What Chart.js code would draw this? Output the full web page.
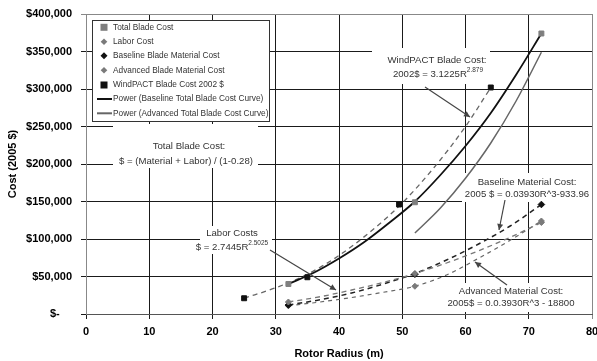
<!DOCTYPE html>
<html>
<head>
<meta charset="utf-8">
<script src="https://cdn.jsdelivr.net/npm/chart.js@4"></script>
<style>
html,body{margin:0;padding:0;background:#fff;}
#wrap{width:597px;height:361px;}
</style>
</head>
<body>
<div id="wrap"><canvas id="c" width="597" height="361"></canvas></div>
<script>
// ---- data ----
const radiusMain = [32, 52, 72];
const totalBladeCost = [40000, 149000, 374000];
const laborCost = [16000, 54000, 122000];
const baselineMaterial = [12000, 53000, 146000];
const advancedMaterial = [11000, 37000, 124000];

const windpactR = [25, 35, 49.5, 64];
const windpactCost = [21000, 49000, 146000, 302000];

// trend curves
const windpactTrendR = [25, 30, 35, 40, 45, 50, 55, 60, 64];
const windpactTrend = [21000, 35000, 53000, 78000, 110000, 148000, 195000, 250000, 302000];

const baselineTotalR = [32, 36, 40, 44, 48, 52, 56, 60, 64, 68, 72];
const baselineTotal = [40000, 55000, 74000, 96000, 122000, 150000, 185000, 224000, 268000, 319000, 374000];

const advancedTotalR = [52, 56, 60, 64, 68, 72];
const advancedTotal = [108000, 141000, 181000, 228000, 284000, 349000];

const trendR = [32, 37, 42, 47, 52, 57, 62, 67, 72];
const laborTrend = [16000, 23000, 32000, 42000, 54000, 68000, 84000, 102000, 122000];
const baselineTrend = [12000, 19000, 28000, 40000, 54000, 72000, 93000, 117000, 146000];
const advancedTrend = [11000, 16000, 22000, 29000, 37000, 52000, 74000, 98000, 124000];

const xTicks = [0, 10, 20, 30, 40, 50, 60, 70, 80];
const yTicks = [0, 50000, 100000, 150000, 200000, 250000, 300000, 350000, 400000];

const legendLabels = [
  'Total Blade Cost',
  'Labor Cost',
  'Baseline Blade Material Cost',
  'Advanced Blade Material Cost',
  'WindPACT Blade Cost 2002 $',
  'Power (Baseline Total Blade Cost Curve)',
  'Power (Advanced Total Blade Cost Curve)'
];

function pts(xs, ys){ return xs.map((x,i)=>({x:x, y:ys[i]})); }

const FONT = '"Liberation Sans", Arial, sans-serif';

// annotation plugin
function drawArrow(ctx, x1, y1, x2, y2){
  ctx.save();
  ctx.strokeStyle = '#444'; ctx.fillStyle = '#444'; ctx.lineWidth = 1.2;
  ctx.beginPath(); ctx.moveTo(x1, y1); ctx.lineTo(x2, y2); ctx.stroke();
  const a = Math.atan2(y2 - y1, x2 - x1), L = 6, W = 3;
  ctx.beginPath();
  ctx.moveTo(x2, y2);
  ctx.lineTo(x2 - L*Math.cos(a) + W*Math.sin(a), y2 - L*Math.sin(a) - W*Math.cos(a));
  ctx.lineTo(x2 - L*Math.cos(a) - W*Math.sin(a), y2 - L*Math.sin(a) + W*Math.cos(a));
  ctx.closePath(); ctx.fill();
  ctx.restore();
}
function textSup(ctx, base, sup, cx, y){
  ctx.save();
  ctx.font = '9.6px ' + FONT;
  const wb = ctx.measureText(base).width;
  ctx.font = '6.5px ' + FONT;
  const ws = ctx.measureText(sup).width;
  const x0 = cx - (wb + ws)/2;
  ctx.textAlign = 'left'; ctx.textBaseline = 'middle'; ctx.fillStyle = '#333';
  ctx.font = '9.6px ' + FONT; ctx.fillText(base, x0, y);
  ctx.font = '6.5px ' + FONT; ctx.fillText(sup, x0 + wb, y - 4);
  ctx.restore();
}
function textC(ctx, s, cx, y){
  ctx.save();
  ctx.font = '9.6px ' + FONT; ctx.textAlign = 'center'; ctx.textBaseline = 'middle'; ctx.fillStyle = '#333';
  ctx.fillText(s, cx, y);
  ctx.restore();
}

const annotPlugin = {
  id: 'annot',
  beforeDatasetsDraw(chart){
    const ctx = chart.ctx;
    ctx.save();
    ctx.fillStyle = '#fff';
    ctx.fillRect(372, 48, 118, 36);
    ctx.fillRect(113, 124, 145, 44);
    ctx.fillRect(200, 226, 72, 28);
    ctx.fillRect(462, 173, 130, 29);
    ctx.fillRect(440, 283, 148, 29);
    ctx.restore();
    textC(ctx, 'WindPACT Blade Cost:', 437, 60);
    textSup(ctx, '2002$ = 3.1225R', '2.879', 438, 74);
    textC(ctx, 'Total Blade Cost:', 189, 146);
    textC(ctx, '$ = (Material + Labor) / (1-0.28)', 186, 161);
    textC(ctx, 'Labor Costs', 232, 233);
    textSup(ctx, '$ = 2.7445R', '2.5025', 232, 247);
    textC(ctx, 'Baseline Material Cost:', 527, 182);
    textC(ctx, '2005 $ = 0.03930R^3-933.96', 527, 194);
    textC(ctx, 'Advanced Material Cost:', 511, 291);
    textC(ctx, '2005$ = 0.0.3930R^3 - 18800', 511, 303);
  },
  afterDatasetsDraw(chart){
    const ctx = chart.ctx;
    drawArrow(ctx, 425, 87, 470, 117);
    drawArrow(ctx, 270, 250, 336, 290);
    drawArrow(ctx, 505, 200, 499, 230);
    drawArrow(ctx, 507, 285, 475, 262);
  },
  afterDraw(chart){
    const ctx = chart.ctx;
    ctx.save();
    ctx.fillStyle = '#fff';
    ctx.fillRect(92.5, 20.5, 177, 101);
    ctx.strokeStyle = '#333'; ctx.lineWidth = 1;
    ctx.strokeRect(92.5, 20.5, 177, 101);
    const rows = [27.3, 41.7, 55.7, 70.3, 85, 99, 113.3];
    ctx.font = '8.3px ' + FONT; ctx.textBaseline = 'middle'; ctx.textAlign = 'left'; ctx.fillStyle = '#333';
    legendLabels.forEach((s, i) => { ctx.fillStyle = '#333'; ctx.fillText(s, 113, rows[i]); });
    const mx = 104;
    ctx.fillStyle = '#7f7f7f'; ctx.fillRect(mx - 3.5, rows[0] - 3.5, 7, 7);
    function diamond(y, r, col){ ctx.fillStyle = col; ctx.beginPath(); ctx.moveTo(mx, y - r); ctx.lineTo(mx + r, y); ctx.lineTo(mx, y + r); ctx.lineTo(mx - r, y); ctx.closePath(); ctx.fill(); }
    diamond(rows[1], 3.3, '#7a7a7a');
    diamond(rows[2], 3.5, '#111');
    diamond(rows[3], 3.3, '#7a7a7a');
    ctx.fillStyle = '#111'; ctx.fillRect(mx - 3.5, rows[4] - 3.5, 7, 7);
    ctx.lineWidth = 2; ctx.strokeStyle = '#111';
    ctx.beginPath(); ctx.moveTo(97, rows[5]); ctx.lineTo(112, rows[5]); ctx.stroke();
    ctx.strokeStyle = '#666';
    ctx.beginPath(); ctx.moveTo(97, rows[6]); ctx.lineTo(112, rows[6]); ctx.stroke();
    ctx.restore();
  }
};

const dash = [5, 4];
new Chart(document.getElementById('c'), {
  type: 'scatter',
  data: {
    datasets: [
      { label: legendLabels[0], data: pts(radiusMain, totalBladeCost), pointStyle: 'rect', pointRadius: 3.5, backgroundColor: '#7f7f7f', borderColor: '#7f7f7f', showLine: false },
      { label: legendLabels[1], data: pts(radiusMain, laborCost), pointStyle: 'rectRot', pointRadius: 3, backgroundColor: '#7a7a7a', borderColor: '#7a7a7a', showLine: false },
      { label: legendLabels[2], data: pts(radiusMain, baselineMaterial), pointStyle: 'rectRot', pointRadius: 3.3, backgroundColor: '#111', borderColor: '#111', showLine: false },
      { label: legendLabels[3], data: pts(radiusMain, advancedMaterial), pointStyle: 'rectRot', pointRadius: 3, backgroundColor: '#7a7a7a', borderColor: '#7a7a7a', showLine: false },
      { label: legendLabels[4], data: pts(windpactR, windpactCost), pointStyle: 'rect', pointRadius: 3.5, backgroundColor: '#111', borderColor: '#111', showLine: false },
      { label: legendLabels[5], data: pts(baselineTotalR, baselineTotal), showLine: true, pointRadius: 0, borderColor: '#111', borderWidth: 1.8, cubicInterpolationMode: 'monotone' },
      { label: legendLabels[6], data: pts(advancedTotalR, advancedTotal), showLine: true, pointRadius: 0, borderColor: '#666', borderWidth: 1.5, cubicInterpolationMode: 'monotone' },
      { label: 'windpact trend', data: pts(windpactTrendR, windpactTrend), showLine: true, pointRadius: 0, borderColor: '#666', borderWidth: 1.3, borderDash: dash, cubicInterpolationMode: 'monotone' },
      { label: 'labor trend', data: pts(trendR, laborTrend), showLine: true, pointRadius: 0, borderColor: '#777', borderWidth: 1.3, borderDash: dash, cubicInterpolationMode: 'monotone' },
      { label: 'baseline trend', data: pts(trendR, baselineTrend), showLine: true, pointRadius: 0, borderColor: '#222', borderWidth: 1.5, borderDash: dash, cubicInterpolationMode: 'monotone' },
      { label: 'advanced trend', data: pts(trendR, advancedTrend), showLine: true, pointRadius: 0, borderColor: '#666', borderWidth: 1.2, borderDash: [4, 4], cubicInterpolationMode: 'monotone' }
    ]
  },
  options: {
    responsive: false,
    animation: false,
    layout: { padding: { left: 0, right: 5, top: 14, bottom: 0 } },
    plugins: { legend: { display: false }, tooltip: { enabled: false } },
    scales: {
      x: {
        type: 'linear', min: 0, max: 80,
        afterBuildTicks(s){ s.ticks = xTicks.map(v => ({value: v})); },
        afterFit(s){ s.height = 47; s.paddingRight = 0; s.paddingLeft = 0; },
        ticks: { color: '#000', font: { family: FONT, size: 11, weight: 'bold' }, padding: 6, maxRotation: 0 },
        grid: { color: (c) => (c.tick && c.tick.value === 80) ? '#888' : '#1a1a1a', lineWidth: 1, tickLength: 5 },
        border: { color: '#555', width: 1 },
        title: { display: true, text: 'Rotor Radius (m)', color: '#000', font: { family: FONT, size: 11, weight: 'bold' }, padding: { top: 3, bottom: 0 } }
      },
      y: {
        type: 'linear', min: 0, max: 400000,
        afterBuildTicks(s){ s.ticks = yTicks.map(v => ({value: v})); },
        afterFit(s){ s.width = 86; s.paddingTop = 0; s.paddingBottom = 0; },
        ticks: { color: '#000', font: { family: FONT, size: 11, weight: 'bold' }, padding: 9,
          callback: (v) => v === 0 ? '$-    ' : '$' + v.toLocaleString('en-US') },
        grid: { color: (c) => (c.tick && c.tick.value === 400000) ? '#888' : '#1a1a1a', lineWidth: 1, tickLength: 5 },
        border: { color: '#888', width: 1 },
        title: { display: true, text: 'Cost (2005 $)', color: '#000', font: { family: FONT, size: 11, weight: 'bold' }, padding: { top: 6, bottom: 0 } }
      }
    }
  },
  plugins: [annotPlugin]
});
</script>
</body>
</html>
